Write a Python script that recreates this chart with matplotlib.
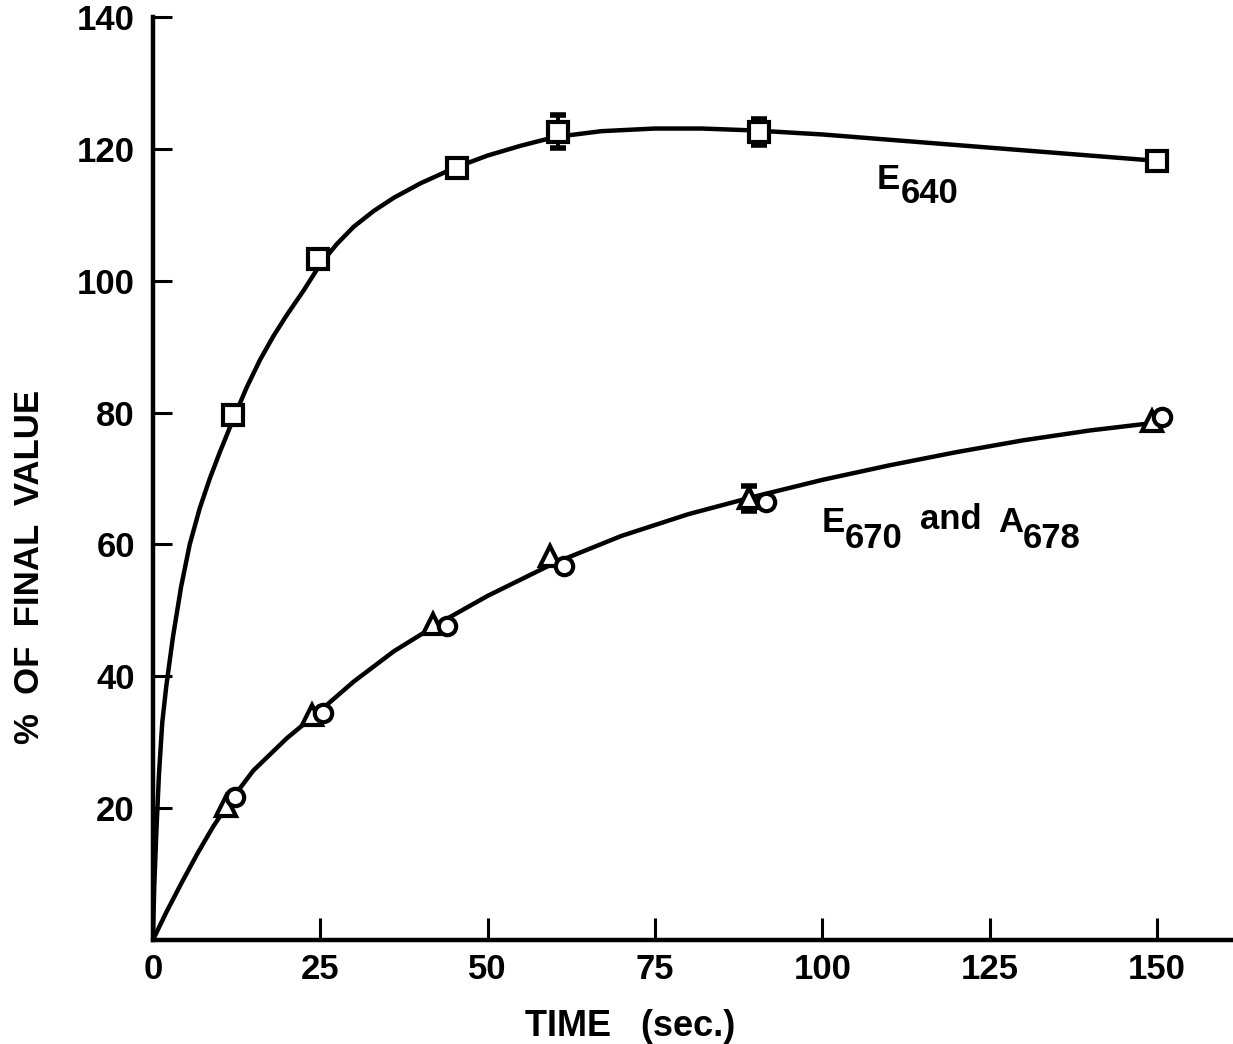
import matplotlib
matplotlib.use("Agg")
import matplotlib.pyplot as plt

# E640 squares
sq_x = [12, 24.7, 45.5, 60.5, 90.6, 150]
sq_y = [79.7, 103.3, 117.1, 122.6, 122.6, 118.2]
# error bars (only on some points)
sq_err_x = [60.5, 90.6]
sq_err_y = [122.6, 122.6]
sq_err = [2.5, 2.0]

# E670 triangles, A678 circles
tri_x = [10.9, 23.8, 41.9, 59.4, 89.1, 149.3]
tri_y = [20.3, 34.2, 48.0, 58.2, 67.0, 78.8]
tri_err_x = [89.1]
tri_err_y = [67.0]
tri_err = [1.9]
circ_x = [12.3, 25.4, 44.0, 61.4, 91.6, 150.7]
circ_y = [21.7, 34.5, 47.6, 56.7, 66.4, 79.4]

# hand-drawn fitted curves
up_x = [0, 0.2, 0.5, 0.9, 1.4, 2, 3, 4.2, 5.5, 7, 8.5, 10, 12, 14, 16, 18, 20,
        22.5, 25, 27.5, 30, 33, 36, 40, 45, 50, 55, 60, 67, 75, 82, 90, 100,
        110, 120, 130, 140, 150]
up_y = [0, 8, 16, 25, 33, 38.5, 46, 53.5, 60, 65.5, 70, 74, 79, 83.8, 88, 91.6,
        94.8, 98.5, 102.5, 105.6, 108.2, 110.6, 112.6, 114.8, 117.1, 119, 120.5,
        121.8, 122.7, 123.1, 123.1, 122.8, 122.2, 121.4, 120.6, 119.8, 119, 118.2]
lo_x = [0, 2, 4.3, 6.7, 9, 11.5, 15, 20, 25, 30, 36, 43, 50, 60, 70, 80, 90,
        100, 110, 120, 130, 140, 150]
lo_y = [0, 4.2, 8.7, 13.2, 17.2, 21.0, 25.7, 30.6, 34.8, 39.2, 43.8, 48.2, 52.2,
        57.2, 61.3, 64.6, 67.3, 69.8, 72.0, 74.0, 75.8, 77.3, 78.5]

x_ticks = [0, 25, 50, 75, 100, 125, 150]
y_ticks = [20, 40, 60, 80, 100, 120, 140]

plt.rcParams["font.family"] = ["Liberation Sans", "DejaVu Sans"]
plt.rcParams["font.weight"] = "bold"

fig = plt.figure(figsize=(12.33, 10.44), dpi=100)
ax = fig.add_axes([0.124, 0.0996, 0.874, 0.884])

ax.plot(up_x, up_y, color="black", lw=3.2, zorder=2)
ax.plot(lo_x, lo_y, color="black", lw=3.2, zorder=2)

eb = dict(fmt="none", ecolor="black", elinewidth=2.8, capsize=6, capthick=4, zorder=2)
ax.errorbar(sq_err_x, sq_err_y, yerr=sq_err, **eb)
ax.errorbar(tri_err_x, tri_err_y, yerr=tri_err, **eb)

mk = dict(mfc="white", mec="black", mew=3, ls="none", zorder=3)
ax.plot(sq_x, sq_y, marker="s", ms=14.5, **mk)
ax.plot(tri_x, tri_y, marker="^", ms=15, **mk)
ax.plot(circ_x, circ_y, marker="o", ms=12.5, **mk)

ax.set_xlim(0, 161)
ax.set_ylim(0, 140)
ax.set_xticks(x_ticks)
ax.set_yticks(y_ticks)
for s in ["top", "right"]:
    ax.spines[s].set_visible(False)
for s in ["left", "bottom"]:
    ax.spines[s].set_linewidth(3.2)
ax.tick_params(direction="in", width=2.2, labelsize=25)
ax.tick_params(axis="x", length=16, pad=9)
ax.tick_params(axis="y", length=14, pad=13)

fs = 25
ax.text(108.2, 115.4, "E", fontsize=fs, va="center", ha="left")
ax.text(111.8, 113.2, "640", fontsize=fs, va="center", ha="left")
ax.text(99.9, 63.3, "E", fontsize=fs, va="center", ha="left")
ax.text(103.3, 60.9, "670", fontsize=fs, va="center", ha="left")
ax.text(114.6, 63.8, "and", fontsize=fs, va="center", ha="left")
ax.text(126.3, 63.3, "A", fontsize=fs, va="center", ha="left")
ax.text(130.0, 60.9, "678", fontsize=fs, va="center", ha="left")

fig.text(30 / 1233, 1 - 567 / 1044, "%  OF  FINAL  VALUE", rotation=90,
         fontsize=25, ha="center", va="center")
fig.text(630 / 1233, 1 - 1027 / 1044, "TIME   (sec.)", fontsize=26,
         ha="center", va="center")

fig.savefig("out.png", dpi=100)
